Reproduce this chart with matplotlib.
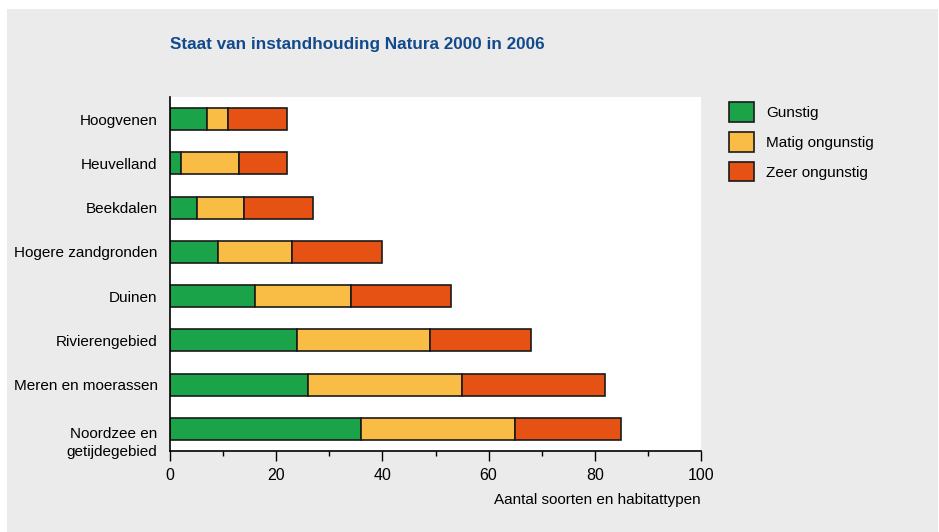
import matplotlib
matplotlib.use("Agg")
import matplotlib.pyplot as plt
import matplotlib.patches as mpatches
import matplotlib.transforms as mtransforms
from matplotlib.ticker import MultipleLocator
import numpy as np

regions = ["Hoogvenen", "Heuvelland", "Beekdalen", "Hogere zandgronden",
           "Duinen", "Rivierengebied", "Meren en moerassen",
           "Noordzee en\ngetijdegebied"]
gunstig = [7, 2, 5, 9, 16, 24, 26, 36]
matig = [4, 11, 9, 14, 18, 25, 29, 29]
zeer = [11, 9, 13, 17, 19, 19, 27, 20]
series_names = ["Gunstig", "Matig ongunstig", "Zeer ongunstig"]

colors = ["#1ba34a", "#f9bc45", "#e65214"]
grey = "#ebebeb"
plt.rcParams['font.family'] = ['Liberation Sans Narrow', 'Liberation Sans', 'DejaVu Sans']

W, H = 939, 532
fig = plt.figure(figsize=(W / 100, H / 100), dpi=100)
fig.patch.set_facecolor("white")
fig.patches.append(mpatches.Rectangle((7 / W, 0), 931 / W, 523 / H, transform=fig.transFigure,
                                      facecolor=grey, edgecolor="none", zorder=-10))

ax = fig.add_axes([170 / W, 1 - 451 / H, 531 / W, 354 / H])
ax.set_facecolor("white")

y = np.arange(len(regions))
left = np.zeros(len(regions))
for vals, c, name in zip([gunstig, matig, zeer], colors, series_names):
    ax.barh(y, vals, left=left, height=0.5, color=c, edgecolor="#1a1a1a",
            linewidth=1.2, label=name)
    left = left + np.array(vals)

ax.set_xlim(0, 100)
ax.set_ylim(len(regions) - 0.5, -0.5)
ax.set_yticks(y)
ax.set_yticklabels(regions, fontsize=11, linespacing=1.3)
ax.tick_params(axis="y", length=0, pad=9)
# two-line label sits lower, first line level with its bar
lbl = ax.get_yticklabels()[-1]
lbl.set_transform(lbl.get_transform() + mtransforms.ScaledTranslation(0, -11 / 100, fig.dpi_scale_trans))
ax.xaxis.set_major_locator(MultipleLocator(20))
ax.xaxis.set_minor_locator(MultipleLocator(10))
ax.tick_params(axis="x", which="major", length=7.5, width=1, labelsize=11.5, pad=5)
ax.tick_params(axis="x", which="minor", length=3.8, width=1)
ax.set_xlabel("Aantal soorten en habitattypen", fontsize=11, labelpad=7, loc="right")
for s in ["top", "right"]:
    ax.spines[s].set_visible(False)
for s in ["left", "bottom"]:
    ax.spines[s].set_linewidth(1.2)

fig.text(170 / W, 1 - 45 / H, "Staat van instandhouding Natura 2000 in 2006",
         fontsize=12.3, fontweight="bold", color="#134a8c", va="center", ha="left")

handles = [mpatches.Patch(facecolor=c, edgecolor="#1a1a1a", linewidth=1.2) for c in colors]
fig.legend(handles, series_names, loc="upper left", bbox_to_anchor=(729 / W, 1 - 102 / H),
           frameon=False, fontsize=11, handlelength=1.63, handleheight=1.6,
           labelspacing=0.67, handletextpad=0.78, borderaxespad=0, borderpad=0)

fig.savefig("out.png", dpi=100)
